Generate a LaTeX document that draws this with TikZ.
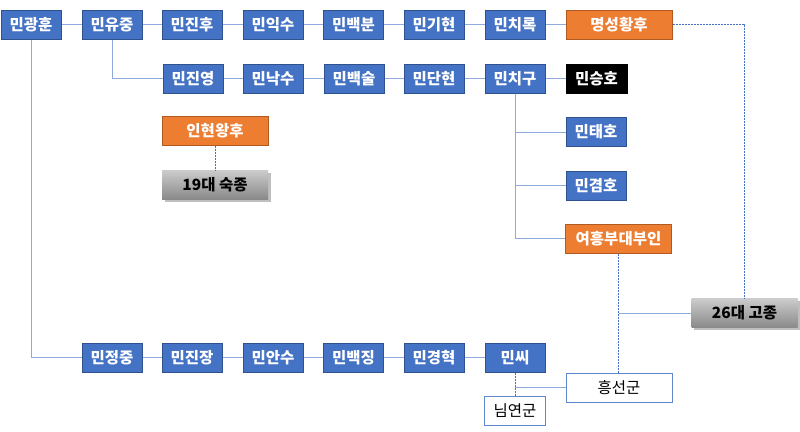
\documentclass[tikz,border=0pt]{standalone}
\usepackage{fontspec}
\setmainfont{Noto Sans CJK KR}
\usetikzlibrary{shadows}
\definecolor{minblue}{HTML}{4472C4}
\definecolor{minedge}{HTML}{2F528F}
\definecolor{queen}{HTML}{ED7D31}
\definecolor{queenedge}{HTML}{AE5A21}
\definecolor{linkblue}{HTML}{8FAADC}
\begin{document}
\begin{tikzpicture}[x=1pt,y=-1pt]
    \tikzstyle{min}=[draw=minedge,fill=minblue,text=white,line width=1pt,
        minimum width=60pt,minimum height=29pt,inner sep=0pt,
        font=\bfseries\fontsize{15.5}{15.5}\selectfont]
    \tikzstyle{queen}=[min,draw=queenedge,fill=queen,minimum width=106pt]
    \tikzstyle{king}=[minimum width=106pt,minimum height=29pt,inner sep=0pt,
        top color=black!20,bottom color=black!46,drop shadow,
        font=\bfseries\fontsize{15.5}{15.5}\selectfont]
    \tikzstyle{plain}=[draw=minblue!85,line width=0.8pt,fill=white,
        minimum height=29pt,inner sep=0pt,font=\fontsize{15.5}{15.5}\selectfont]
    \tikzstyle{link}=[draw=linkblue,line width=1pt]
    \tikzstyle{wife}=[draw=minblue,line width=1pt,dash pattern=on 2pt off 1pt]
    \useasboundingbox (0,0) rectangle (800,431);

    \node[min] (gh) at (31,24.5) {민광훈};
    \node[min] (yj) at (112,24.5) {민유중};
    \node[min] (jh) at (192,24.5) {민진후};
    \node[min] (is) at (273,24.5) {민익수};
    \node[min] (bb) at (353.5,24.5) {민백분};
    \node[min] (kh) at (434,24.5) {민기현};
    \node[min] (cr) at (515,24.5) {민치록};
    \node[queen] (mh) at (619,24.5) {명성황후};

    \node[min] (jy) at (193,78.5) {민진영};
    \node[min] (ns) at (273,78.5) {민낙수};
    \node[min] (bs) at (354,78.5) {민백술};
    \node[min] (dh) at (434,78.5) {민단현};
    \node[min] (cg) at (515,78.5) {민치구};
    \node[min,draw=black,fill=black,minimum width=61pt] (sh) at (596.5,78.5) {민승호};

    \node[queen] (ih) at (215,130.5) {인현왕후};
    \node[king] (sj) at (215,184.5) {19대 숙종};

    \node[min] (th) at (596,132) {민태호};
    \node[min] (gyh) at (596,185.5) {민겸호};
    \node[queen] (yh) at (618.5,238.5) {여흥부대부인};
    \node[king] (gj) at (744.5,313) {26대 고종};

    \node[min] (jj) at (112,357.5) {민정중};
    \node[min] (jjang) at (192,357.5) {민진장};
    \node[min] (as) at (273,357.5) {민안수};
    \node[min] (bj) at (353.5,357.5) {민백징};
    \node[min] (gh2) at (434,357.5) {민경혁};
    \node[min] (ms) at (515,357.5) {민씨};
    \node[plain,minimum width=106pt] (hs) at (619,387.5) {흥선군};
    \node[plain,minimum width=61pt] (nyg) at (515,410.5) {님연군};

    \draw[link] (gh) -- (yj) -- (jh) -- (is) -- (bb) -- (kh) -- (cr) -- (mh);
    \draw[link] (yj) |- (jy);
    \draw[link] (jy) -- (ns) -- (bs) -- (dh) -- (cg) -- (sh);
    \draw[link] (gh) |- (jj);
    \draw[link] (jj) -- (jjang) -- (as) -- (bj) -- (gh2) -- (ms);
    \draw[link] (cg.south) |- (th);
    \draw[link] (cg.south) |- (gyh);
    \draw[link] (cg.south) |- (yh);
    \draw[link] (gj.west) -- (gj.west -| yh.south);
    \draw[link] (hs.west) -- (hs.west -| ms.south);

    \draw[wife] (mh.east) -| (gj.north);
    \draw[wife] (ih) -- (sj);
    \draw[wife] (yh.south) -- (yh.south |- hs.north);
    \draw[wife] (ms) -- (nyg);
\end{tikzpicture}
\end{document}
